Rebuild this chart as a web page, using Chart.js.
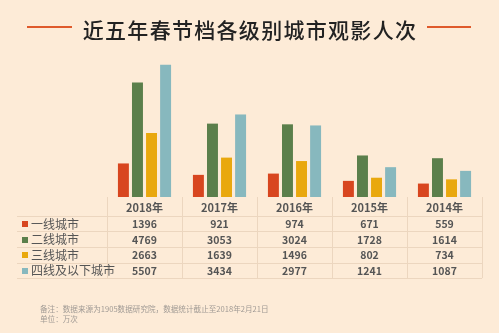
<!DOCTYPE html>
<html>
<head>
<meta charset="utf-8">
<script src="https://cdn.jsdelivr.net/npm/chart.js@4/dist/chart.umd.min.js"></script>
<style>
    html, body { margin: 0; padding: 0; background: #fdebd7; }
    #wrap { width: 499px; height: 333px; position: relative; }
</style>
</head>
<body>
<div id="wrap"><canvas id="chart-bars"></canvas></div>
<script>
const years = ['2018年', '2017年', '2016年', '2015年', '2014年'];
const tiers = ['一线城市', '二线城市', '三线城市', '四线及以下城市'];
const tier1 = [1396, 921, 974, 671, 559];
const tier2 = [4769, 3053, 3024, 1728, 1614];
const tier3 = [2663, 1639, 1496, 802, 734];
const tier4 = [5507, 3434, 2977, 1241, 1087];
const tierColors = ['#d8461f', '#5b7f4b', '#e9a80d', '#87b8be'];

const titleText = '近五年春节档各级别城市观影人次';
const noteLines = [
    '备注：数据来源为1905数据研究院，数据统计截止至2018年2月21日',
    '单位：万次'
];

const FONT = '"Noto Sans CJK SC", "Noto Sans", sans-serif';

// title, data table under the bars, legend swatches and footnotes
const decorations = {
    id: 'decorations',
    afterDraw(chart) {
        const ctx = chart.ctx;
        const x = chart.scales.x;
        const area = chart.chartArea;
        const n = years.length;
        const colW = (area.right - area.left) / n;
        const tableLeft = 17;
        const top = area.bottom;
        const headerH = 18.7;
        const rowH = 15.6;
        const bottom = top + headerH + rowH * tiers.length;

        ctx.save();

        // title with the two rules
        ctx.fillStyle = '#222222';
        ctx.font = '500 21px ' + FONT;
        ctx.letterSpacing = '1.3px';
        ctx.textAlign = 'center';
        ctx.textBaseline = 'middle';
        ctx.fillText(titleText, 250, 30);
        ctx.letterSpacing = '0px';
        ctx.strokeStyle = '#df5a2c';
        ctx.lineWidth = 2;
        ctx.beginPath();
        ctx.moveTo(27, 27); ctx.lineTo(72, 27);
        ctx.moveTo(427, 27); ctx.lineTo(471, 27);
        ctx.stroke();

        // table grid
        ctx.strokeStyle = '#ecd6bf';
        ctx.lineWidth = 1;
        ctx.beginPath();
        for (let r = 0; r <= tiers.length; r++) {
            const y = Math.round(top + headerH + rowH * r) + 0.5;
            ctx.moveTo(tableLeft, y);
            ctx.lineTo(area.right, y);
        }
        for (let c = 0; c <= n; c++) {
            const xx = Math.round(area.left + colW * c) + 0.5;
            ctx.moveTo(xx, top);
            ctx.lineTo(xx, bottom);
        }
        ctx.stroke();

        // column headers
        ctx.fillStyle = '#555555';
        ctx.font = 'bold 11px ' + FONT;
        years.forEach((yr, i) => {
            ctx.fillText(yr, x.getPixelForValue(i), top + headerH / 2 + 1);
        });

        // values and legend rows
        chart.data.datasets.forEach((ds, r) => {
            const cy = top + headerH + rowH * r + rowH / 2 + 0.5;
            ctx.font = 'bold 10.5px ' + FONT;
            ctx.textAlign = 'center';
            ctx.fillStyle = '#555555';
            ds.data.forEach((v, i) => {
                ctx.fillText(String(v), x.getPixelForValue(i), cy);
            });
            ctx.fillStyle = ds.backgroundColor;
            ctx.fillRect(22, Math.round(cy) - 3, 6, 6);
            ctx.fillStyle = '#555555';
            ctx.font = '12px ' + FONT;
            ctx.textAlign = 'left';
            ctx.fillText(ds.label, 31, cy);
        });

        // footnotes
        ctx.fillStyle = '#a09a94';
        ctx.font = '7.6px ' + FONT;
        ctx.textAlign = 'left';
        noteLines.forEach((t, i) => ctx.fillText(t, 40, 309 + i * 10));

        ctx.restore();
    }
};

const seriesValues = [tier1, tier2, tier3, tier4];

new Chart(document.getElementById('chart-bars'), {
    type: 'bar',
    data: {
        labels: years,
        datasets: tiers.map((name, i) => ({
            label: name,
            data: seriesValues[i],
            backgroundColor: tierColors[i],
            borderWidth: 0,
            categoryPercentage: 0.75,
            barPercentage: 0.78
        }))
    },
    options: {
        responsive: true,
        maintainAspectRatio: false,
        animation: false,
        layout: {
            padding: { left: 107, right: 17, top: 60, bottom: 136 }
        },
        plugins: {
            legend: { display: false },
            title: { display: false },
            tooltip: { enabled: false }
        },
        scales: {
            x: { display: false, grid: { display: false } },
            y: { display: false, min: 0, max: 5700, grid: { display: false } }
        }
    },
    plugins: [decorations]
});
</script>
</body>
</html>
